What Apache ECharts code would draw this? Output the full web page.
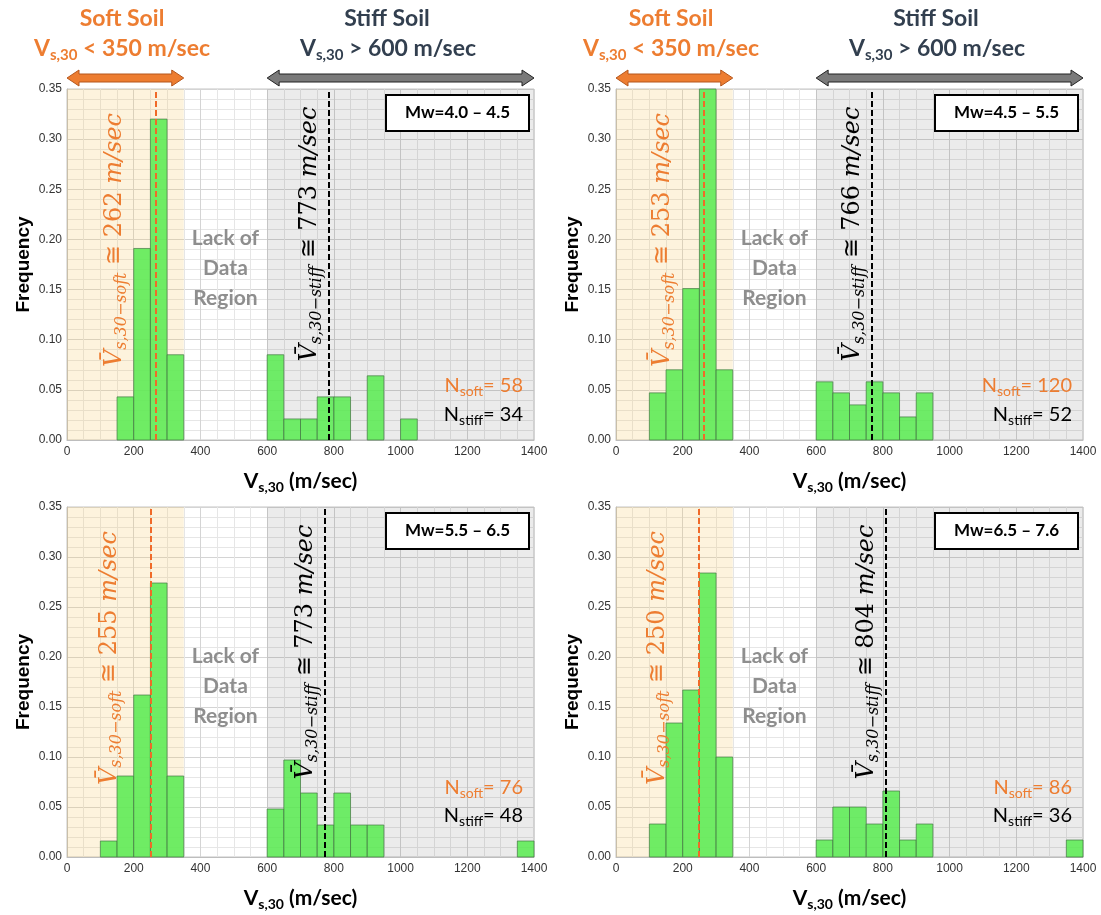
<!DOCTYPE html>
<html><head><meta charset="utf-8">
<script src="https://cdn.jsdelivr.net/npm/echarts@6/dist/echarts.min.js"></script>
<style>html,body{margin:0;padding:0;background:#fff}#c{width:1101px;height:915px}</style>
</head><body><div id="c"></div>
<script>
// ---------------- data ----------------
const binWidth = 50;
const xMin = 0, xMax = 1400, xStep = 200;
const yMin = 0, yMax = 0.35, yStep = 0.05;
const panelTitles = ['Mw=4.0 \u2013 4.5', 'Mw=4.5 \u2013 5.5', 'Mw=5.5 \u2013 6.5', 'Mw=6.5 \u2013 7.6'];
const binStarts1 = [150, 200, 250, 300, 600, 650, 700, 750, 800, 900, 1000];
const freq1      = [0.043, 0.191, 0.320, 0.085, 0.085, 0.021, 0.021, 0.043, 0.043, 0.064, 0.021];
const binStarts2 = [100, 150, 200, 250, 300, 600, 650, 700, 750, 800, 850, 900];
const freq2      = [0.047, 0.070, 0.151, 0.350, 0.070, 0.058, 0.047, 0.035, 0.058, 0.047, 0.023, 0.047];
const binStarts3 = [100, 150, 200, 250, 300, 600, 650, 700, 750, 800, 850, 900, 1350];
const freq3      = [0.016, 0.081, 0.162, 0.274, 0.081, 0.048, 0.097, 0.064, 0.032, 0.064, 0.032, 0.032, 0.016];
const binStarts4 = [100, 150, 200, 250, 300, 600, 650, 700, 750, 800, 850, 900, 1350];
const freq4      = [0.033, 0.134, 0.167, 0.284, 0.100, 0.017, 0.050, 0.050, 0.033, 0.066, 0.017, 0.033, 0.017];
const meanSoftLine  = [267, 262, 252, 247];
const meanStiffLine = [785, 768, 773, 810];
const meanSoftLabel  = [262, 253, 255, 250];
const meanStiffLabel = [773, 766, 773, 804];
const nSoft  = [58, 120, 76, 86];
const nStiff = [34, 52, 48, 36];
const softRange  = [0, 350];
const stiffRange = [600, 1400];
const lackCenter = 475;

// ---------------- layout ----------------
const G = [
  {left: 67,  top: 89,  width: 467, height: 351},
  {left: 616, top: 89,  width: 467, height: 351},
  {left: 67,  top: 507, width: 467, height: 350},
  {left: 616, top: 507, width: 467, height: 350}
];
const bins = [[binStarts1, freq1], [binStarts2, freq2], [binStarts3, freq3], [binStarts4, freq4]];
const ORANGE = '#ed7d31';
const DARK = '#323f4f';
const SANS = 'Lato';
const SERIF = 'DejaVu Serif';

const chart = echarts.init(document.getElementById('c'));

const grid = G.map(g => ({left: g.left, top: g.top, width: g.width, height: g.height,
  show: true, borderColor: '#c4c4c4', borderWidth: 1, backgroundColor: 'transparent', containLabel: false}));

const xAxis = G.map((g, i) => ({
  gridIndex: i, type: 'value', min: xMin, max: xMax, interval: xStep,
  axisLine: {show: true, lineStyle: {color: '#bdbdbd'}}, axisTick: {show: false},
  axisLabel: {color: '#333', fontSize: 12, fontFamily: 'Liberation Sans', margin: 6, formatter: v => String(v)},
  splitLine: {show: true, lineStyle: {color: '#d4d4d4', width: 1}},
  minorTick: {show: false, splitNumber: 4},
  minorSplitLine: {show: true, lineStyle: {color: '#e6e6e6', width: 1}},
  name: '{b|V}{s|s,30}{b| (m/sec)}', nameLocation: 'middle', nameGap: 28,
  nameTextStyle: {rich: {
    b: {fontFamily: SANS, fontWeight: 'bold', fontSize: 21, color: '#000', lineHeight: 26},
    s: {fontFamily: SANS, fontWeight: 'bold', fontSize: 14, color: '#000', verticalAlign: 'bottom', lineHeight: 12}
  }}
}));
const yAxis = G.map((g, i) => ({
  gridIndex: i, type: 'value', min: yMin, max: yMax, interval: yStep,
  axisLine: {show: true, lineStyle: {color: '#bdbdbd'}}, axisTick: {show: false},
  axisLabel: {color: '#333', fontSize: 12, fontFamily: 'Liberation Sans', margin: 5, formatter: v => v.toFixed(2)},
  splitLine: {show: true, lineStyle: {color: '#d4d4d4', width: 1}},
  minorTick: {show: false, splitNumber: 5},
  minorSplitLine: {show: true, lineStyle: {color: '#e6e6e6', width: 1}},
  name: 'Frequency', nameLocation: 'middle', nameGap: 34,
  nameTextStyle: {fontFamily: 'Liberation Sans', fontWeight: 'bold', fontSize: 19, color: '#000'}
}));

const series = [];
G.forEach((g, i) => {
  series.push({
    type: 'line', xAxisIndex: i, yAxisIndex: i, data: [], silent: true, z: 1,
    markArea: {silent: true, data: [
      [{xAxis: softRange[0], itemStyle: {color: 'rgba(245,200,100,0.22)'}}, {xAxis: softRange[1]}],
      [{xAxis: stiffRange[0], itemStyle: {color: 'rgba(0,0,0,0.08)'}}, {xAxis: stiffRange[1]}]
    ]}
  });
  series.push({
    type: 'custom', xAxisIndex: i, yAxisIndex: i, z: 3, silent: true,
    data: bins[i][0].map((s, k) => [s, s + binWidth, bins[i][1][k]]),
    encode: {x: [0, 1], y: 2},
    renderItem: (params, api) => {
      const p0 = api.coord([api.value(0), 0]);
      const p1 = api.coord([api.value(1), api.value(2)]);
      return {type: 'rect', shape: {x: p0[0], y: p1[1], width: p1[0] - p0[0], height: p0[1] - p1[1]},
        style: {fill: 'rgba(88,235,80,0.86)', stroke: 'rgba(70,120,70,0.7)', lineWidth: 1}};
    }
  });
  series.push({
    type: 'line', xAxisIndex: i, yAxisIndex: i, data: [], silent: true, z: 5,
    markLine: {silent: true, symbol: 'none', label: {show: false}, data: [
      {xAxis: meanSoftLine[i], lineStyle: {color: '#f06a28', type: [6, 3], width: 2}},
      {xAxis: meanStiffLine[i], lineStyle: {color: '#000', type: [6, 3], width: 2}}
    ]}
  });
});

chart.setOption({animation: false, grid, xAxis, yAxis, series});

// ---------------- annotations ----------------
const graphic = [];
function px(i, x) { return chart.convertToPixel({xAxisIndex: i}, x); }
function arrow(xL, xR, cy, fill, stroke) {
  const h = 12, hh = 8, sh = 4;
  return {type: 'polygon', z: 10, shape: {points: [
    [xL, cy], [xL + h, cy - hh], [xL + h, cy - sh], [xR - h, cy - sh], [xR - h, cy - hh], [xR, cy],
    [xR - h, cy + hh], [xR - h, cy + sh], [xL + h, cy + sh], [xL + h, cy + hh]]},
    style: {fill, stroke, lineWidth: 1}};
}
const subRich = (color, size, subSize, weight) => ({
  b: {fontFamily: SANS, fontWeight: weight, fontSize: size, fill: color, color, lineHeight: size + 4},
  s: {fontFamily: SANS, fontWeight: weight, fontSize: subSize, fill: color, color, verticalAlign: 'bottom', lineHeight: subSize - 2}
});
const mathRich = (color) => ({
  v: {fontFamily: SERIF, fontStyle: 'italic', fontSize: 24, fill: color, color, lineHeight: 30},
  s: {fontFamily: SERIF, fontStyle: 'italic', fontSize: 16, fill: color, color, verticalAlign: 'bottom', lineHeight: 14},
  n: {fontFamily: SERIF, fontSize: 24, fill: color, color, lineHeight: 30}
});
G.forEach((g, i) => {
  const L = g.left, T = g.top, R = g.left + g.width, B = g.top + g.height;
  if (i < 2) {
    graphic.push({type: 'text', z: 10, x: L + 55, y: 19, style: {text: 'Soft Soil', fontFamily: SANS, fontWeight: 'bold', fontSize: 23, fill: ORANGE, align: 'center', verticalAlign: 'middle'}});
    graphic.push({type: 'text', z: 10, x: L + 55, y: 49, style: {text: '{b|V}{s|s,30}{b| < 350 m/sec}', fill: ORANGE, rich: subRich(ORANGE, 23, 15, 'bold'), align: 'center', verticalAlign: 'middle'}});
    graphic.push({type: 'text', z: 10, x: L + 320, y: 19, style: {text: 'Stiff Soil', fontFamily: SANS, fontWeight: 'bold', fontSize: 23, fill: DARK, align: 'center', verticalAlign: 'middle'}});
    graphic.push({type: 'text', z: 10, x: L + 321, y: 49, style: {text: '{b|V}{s|s,30}{b| > 600 m/sec}', fill: DARK, rich: subRich(DARK, 23, 15, 'bold'), align: 'center', verticalAlign: 'middle'}});
    graphic.push(arrow(px(i, softRange[0]), px(i, softRange[1]), 78, ORANGE, '#b5561c'));
    graphic.push(arrow(px(i, stiffRange[0]), px(i, stiffRange[1]), 78, '#7a7a7a', '#222'));
  }
  // Mw box
  graphic.push({type: 'rect', z: 10, shape: {x: R - 148, y: T + 6, width: 143, height: 36},
    style: {fill: '#fff', stroke: '#000', lineWidth: 2}});
  graphic.push({type: 'text', z: 11, x: R - 76.5, y: T + 24, style: {text: panelTitles[i], fontFamily: SANS, fontWeight: 'bold', fontSize: 17, fill: '#000', align: 'center', verticalAlign: 'middle'}});
  // N counts
  const ns = i < 2 ? [B - 54, B - 25] : [B - 69, B - 41];
  graphic.push({type: 'text', z: 10, x: R - 11, y: ns[0], style: {text: '{b|N}{s|soft}{b|= ' + nSoft[i] + '}', fill: ORANGE, rich: subRich(ORANGE, 20, 14, 'normal'), align: 'right', verticalAlign: 'middle'}});
  graphic.push({type: 'text', z: 10, x: R - 11, y: ns[1], style: {text: '{b|N}{s|stiff}{b|= ' + nStiff[i] + '}', fill: '#000', rich: subRich('#000', 20, 14, 'normal'), align: 'right', verticalAlign: 'middle'}});
  // Lack of data
  graphic.push({type: 'text', z: 10, x: px(i, lackCenter), y: T + 179, style: {text: 'Lack of\nData\nRegion', fontFamily: SANS, fontWeight: 'bold', fontSize: 21, lineHeight: 30, fill: '#8e8e8e', align: 'center', verticalAlign: 'middle'}});
  // mean labels (rotated)
  graphic.push({type: 'text', z: 10, rotation: Math.PI / 2, x: px(i, meanSoftLine[i]) - 41, y: T + 151,
    style: {text: '{v|V\u0304}{s|s,30\u2212soft}{n| \u2245 ' + meanSoftLabel[i] + ' }{v|m/sec}', fill: ORANGE, rich: mathRich(ORANGE), align: 'center', verticalAlign: 'middle'}});
  graphic.push({type: 'text', z: 10, rotation: Math.PI / 2, x: px(i, meanStiffLine[i]) - 19, y: T + 145,
    style: {text: '{v|V\u0304}{s|s,30\u2212stiff}{n| \u2245 ' + meanStiffLabel[i] + ' }{v|m/sec}', fill: '#000', rich: mathRich('#000'), align: 'center', verticalAlign: 'middle'}});
});
chart.setOption({graphic});
</script>
</body></html>
